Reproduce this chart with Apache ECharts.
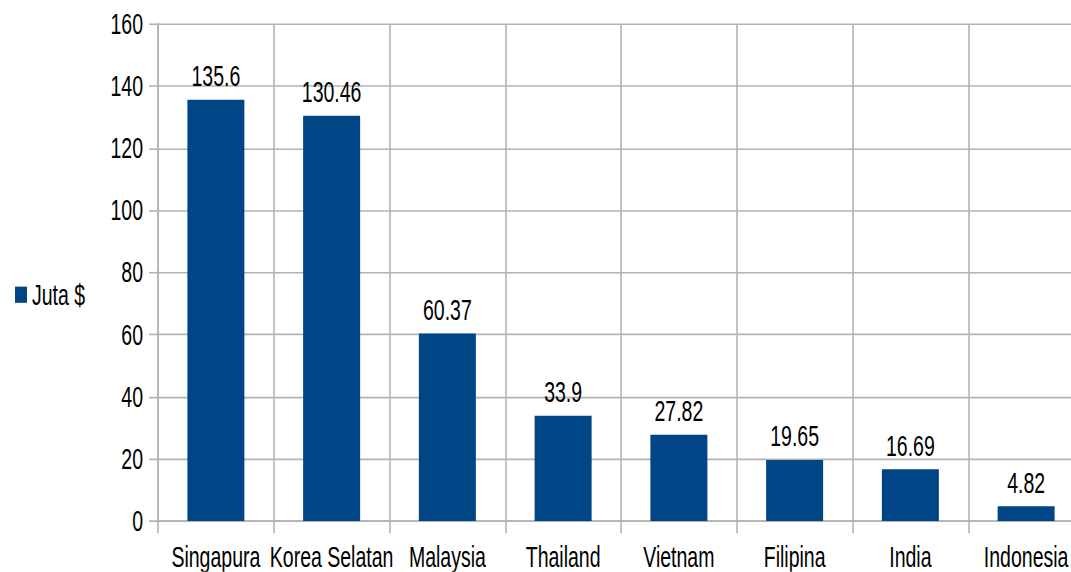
<!DOCTYPE html>
<html>
<head>
    <meta charset="utf-8">
    <script src="https://cdn.jsdelivr.net/npm/echarts@6/dist/echarts.min.js"></script>
    <style>
        html, body { margin: 0; padding: 0; background: #fff; overflow: hidden; width: 1071px; height: 572px; }
        /* the reference text is tall and narrow: draw flat, then stretch vertically */
        #main { transform: scaleY(1.47); transform-origin: 0 0; }
    </style>
</head>
<body>
    <div id="main" style="width:1084px;height:389px;"></div>
</body>
<script type="text/javascript">
    // data
    var negara = ['Singapura', 'Korea Selatan', 'Malaysia', 'Thailand', 'Vietnam', 'Filipina', 'India', 'Indonesia'];
    var jutaDollar = [135.6, 130.46, 60.37, 33.9, 27.82, 19.65, 16.69, 4.82];
    var namaSeri = 'Juta $';

    var huruf = "'Liberation Sans', Arial, sans-serif";
    var ukuran = 19.5;
    var garisH = { color: '#b3b3b3', width: 1.1 };   // horizontal lines (get stretched)
    var garisV = { color: '#b3b3b3', width: 1.6 };   // vertical lines

    var myChart = echarts.init(document.getElementById('main'), null, { renderer: 'svg' });

    myChart.setOption({
        backgroundColor: '#fff',
        animation: false,
        textStyle: { fontFamily: huruf, color: '#000' },
        grid: { left: 158, right: 0, top: 16.3, bottom: 33.3, containLabel: false },
        legend: {
            data: [namaSeri],
            left: 10,
            top: 185.5,
            icon: 'rect',
            itemWidth: 12,
            itemHeight: 11,
            itemGap: 5,
            textStyle: { fontFamily: huruf, fontSize: ukuran, color: '#000' }
        },
        xAxis: {
            type: 'category',
            data: negara,
            axisLine: { lineStyle: garisH },
            axisTick: { show: true, length: 8.2, lineStyle: garisV, interval: 0 },
            axisLabel: { interval: 0, fontSize: ukuran, color: '#000', margin: 14.5, fontFamily: huruf },
            splitLine: { show: true, interval: 0, lineStyle: garisV }
        },
        yAxis: {
            type: 'value',
            min: 0,
            max: 160,
            interval: 20,
            axisLine: { show: true, lineStyle: garisV },
            axisTick: { show: true, length: 9, lineStyle: garisH },
            axisLabel: { fontSize: ukuran, color: '#000', margin: 15, fontFamily: huruf },
            splitLine: { show: true, lineStyle: garisH }
        },
        series: [{
            name: namaSeri,
            type: 'bar',
            data: jutaDollar,
            barWidth: 57,
            itemStyle: { color: '#004586' },
            label: {
                show: true,
                position: 'top',
                distance: 6,
                fontSize: ukuran,
                color: '#000',
                fontFamily: huruf
            }
        }]
    });
</script>
</html>
